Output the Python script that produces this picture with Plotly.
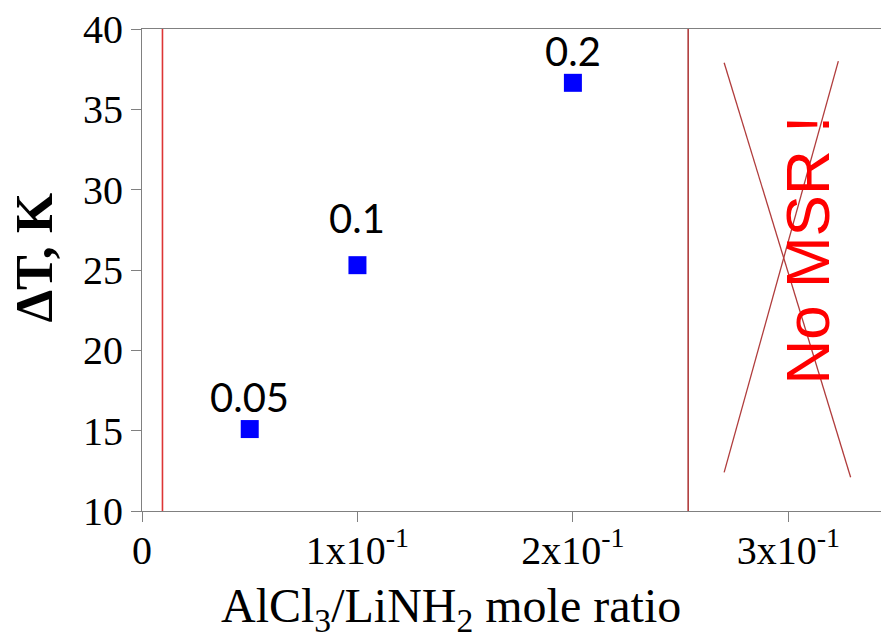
import plotly.graph_objects as go

# ---- data ----
ratio = [0.05, 0.1, 0.2]
delta_t = [15.1, 25.3, 36.65]
point_labels = ["0.05", "0.1", "0.2"]

x_tickvals = [0, 0.1, 0.2, 0.3]
x_ticktext = ["0", "1x10<sup>-1</sup>", "2x10<sup>-1</sup>", "3x10<sup>-1</sup>"]
y_tickvals = [10, 15, 20, 25, 30, 35, 40]

boundary_x = [0.0095, 0.2535]
cross_a_x = [0.2702, 0.3289]
cross_a_y = [37.9, 12.1]
cross_b_x = [0.3232, 0.2702]
cross_b_y = [38.0, 12.4]
no_msr_text = "No MSR !"
no_msr_x = 0.3088
no_msr_y = 26.23

# ---- style ----
label_yshift = [32, 47, 32]
boundary_colors = ["#dd3535", "#b03c3c"]
cross_color = "#b03c3c"
serif = "Liberation Serif, Times New Roman, serif"

fig = go.Figure()

fig.add_trace(go.Scatter(
    x=ratio, y=delta_t, mode="markers",
    marker=dict(symbol="square", size=18, color="#0000ff", line=dict(width=0)),
    showlegend=False, hoverinfo="x+y"))

for cx, cy in ((cross_a_x, cross_a_y), (cross_b_x, cross_b_y)):
    fig.add_trace(go.Scatter(
        x=cx, y=cy, mode="lines",
        line=dict(color=cross_color, width=1.3),
        showlegend=False, hoverinfo="skip"))

shapes = []
for bx, col in zip(boundary_x, boundary_colors):
    shapes.append(dict(type="line", xref="x", yref="y", x0=bx, x1=bx, y0=10, y1=40,
                       line=dict(color=col, width=1.6), layer="above"))

annotations = []
for x, y, t, dy in zip(ratio, delta_t, point_labels, label_yshift):
    annotations.append(dict(x=x, y=y, text=t, showarrow=False, yshift=dy,
                            xanchor="center", yanchor="middle",
                            font=dict(family="Lato, Open Sans, sans-serif", size=40, color="black")))

annotations.append(dict(x=no_msr_x, y=no_msr_y, text=no_msr_text, showarrow=False,
                        textangle=-90, xanchor="center", yanchor="middle",
                        font=dict(family="Liberation Sans, Arial, sans-serif", size=62, color="#ff0000")))

annotations.append(dict(xref="paper", yref="paper", x=-0.1457, y=0.5264,
                        text="<b>ΔT, K</b>", showarrow=False, textangle=-90,
                        xanchor="center", yanchor="middle",
                        font=dict(family=serif, size=52, color="black")))

annotations.append(dict(xref="paper", yref="paper", x=0.418, y=-0.203,
                        text="AlCl<sub>3</sub>/LiNH<sub>2</sub> mole ratio", showarrow=False,
                        xanchor="center", yanchor="middle",
                        font=dict(family=serif, size=48, color="black")))

fig.update_layout(
    width=882, height=639,
    margin=dict(l=142, r=1, t=29, b=128),
    paper_bgcolor="white", plot_bgcolor="white",
    shapes=shapes, annotations=annotations,
    xaxis=dict(range=[0, 0.343], tickvals=x_tickvals, ticktext=x_ticktext,
               showgrid=False, zeroline=False, showline=True, mirror=True,
               linecolor="#808080", linewidth=1, automargin=False,
               ticks="outside", ticklen=10, tickcolor="#808080",
               ticklabelstandoff=-6,
               tickfont=dict(family=serif, size=40, color="black")),
    yaxis=dict(range=[10, 40], tickvals=y_tickvals,
               showgrid=False, zeroline=False, showline=True, mirror=False,
               linecolor="#808080", linewidth=1, automargin=False,
               ticks="outside", ticklen=10, tickcolor="#808080",
               tickfont=dict(family=serif, size=40, color="black")),
)

fig.write_html("out.html",
               config={"displayModeBar": False},
               post_script="document.body.style.margin='0';document.body.style.overflow='hidden';")
